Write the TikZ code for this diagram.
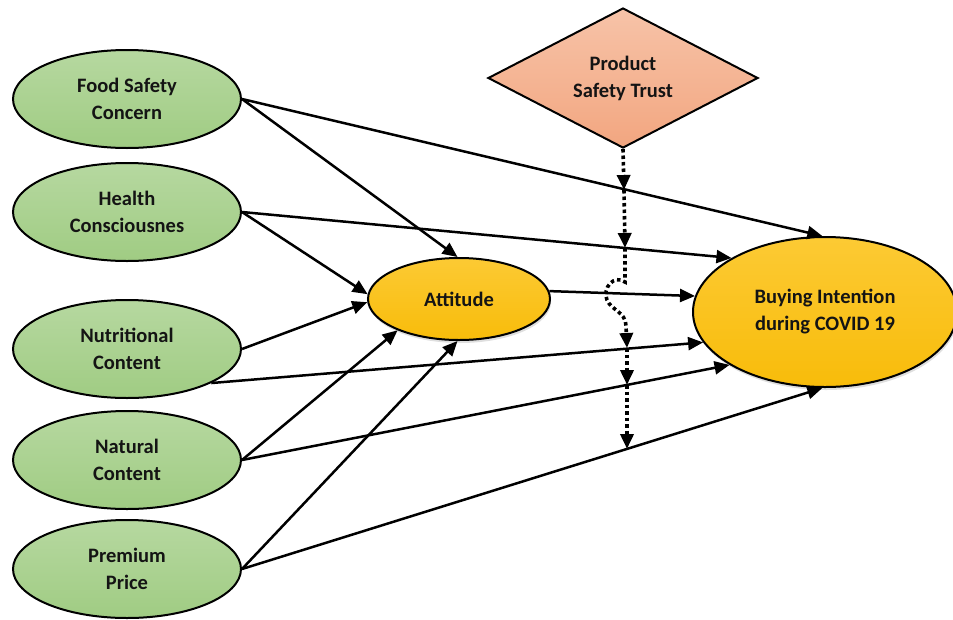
\documentclass[tikz,border=0pt]{standalone}
\usepackage{fontspec}
\setmainfont{Carlito}
\usetikzlibrary{shapes.geometric,arrows.meta,shadows}
\definecolor{gtop}{RGB}{182,216,160}
\definecolor{gbot}{RGB}{160,204,131}
\definecolor{ytop}{RGB}{252,202,52}
\definecolor{ybot}{RGB}{248,188,10}
\definecolor{dtop}{RGB}{247,195,168}
\definecolor{dbot}{RGB}{242,166,128}
\begin{document}
\begin{tikzpicture}[x=1pt,y=-1pt,
  txt/.style={font=\fontsize{20.5}{27}\selectfont\bfseries, align=center, text=black!92},
  factor/.style={txt, ellipse, draw, line width=2pt, top color=gtop, bottom color=gbot,
    minimum width=228pt, minimum height=98pt, inner sep=0pt},
  outcome/.style={txt, ellipse, draw, line width=2pt, top color=ytop, bottom color=ybot,
    inner sep=0pt, drop shadow={opacity=0.25, shadow xshift=1pt, shadow yshift=-3pt}},
  arr/.style={line width=2.5pt, -{Triangle[length=15pt,width=13pt]}},
  modarr/.style={line width=3.6pt, dash pattern=on 3.5pt off 3pt, -{Triangle[length=15pt,width=13pt]}},
]
\useasboundingbox (0,0) rectangle (953,619);

\node[factor] (food) at (127,99) {Food Safety\\Concern};
\node[factor] (health) at (127,212) {Health\\Consciousnes};
\node[factor] (nutr) at (127,349) {Nutritional\\Content};
\node[factor] (nat) at (127,460) {Natural\\Content};
\node[factor] (prem) at (127,569) {Premium\\Price};
\node[outcome, minimum width=182pt, minimum height=82pt] (att) at (459,299) {Attitude};
\node[outcome, minimum width=264pt, minimum height=150pt] (buy) at (825,312) {Buying Intention\\during COVID 19};
\node[txt, diamond, draw, line width=2pt, top color=dtop, bottom color=dbot, aspect=1.93,
  minimum width=270pt, minimum height=140pt, inner sep=0pt] (pst) at (623,78) {Product\\Safety Trust};

\draw[arr] (food.east) -- (att.92);
\draw[arr] (food.east) -- (buy.92);
\draw[arr] (health.east) -- (att.177);
\draw[arr] (health.east) -- (buy.150);
\draw[arr] (nutr.east) -- (att.182);
\draw[arr] (nutr.338) -- (buy.194);
\draw[arr] (nat.east) -- (att.207);
\draw[arr] (nat.east) -- (buy.209);
\draw[arr] (prem.east) -- (att.268);
\draw[arr] (prem.east) -- (buy.268);
\draw[arr] (att.5) -- (buy.173);

\coordinate (m1) at (624,190);
\coordinate (m2) at (625,248);
\coordinate (j1) at (625,282);
\coordinate (j2) at (607,300);
\coordinate (j3) at (626,326);
\coordinate (m3) at (627,348);
\coordinate (m4) at (627,385);
\coordinate (m5) at (627,449);
\draw[modarr] (pst.south) -- (m1);
\draw[modarr] (m1) -- (m2);
\draw[modarr] (m2) -- (j1) .. controls (614,274) and (602,288) .. (j2)
  .. controls (611,310) and (626,312) .. (j3) -- (m3);
\draw[modarr] (m3) -- (m4);
\draw[modarr] (m4) -- (m5);
\end{tikzpicture}
\end{document}
